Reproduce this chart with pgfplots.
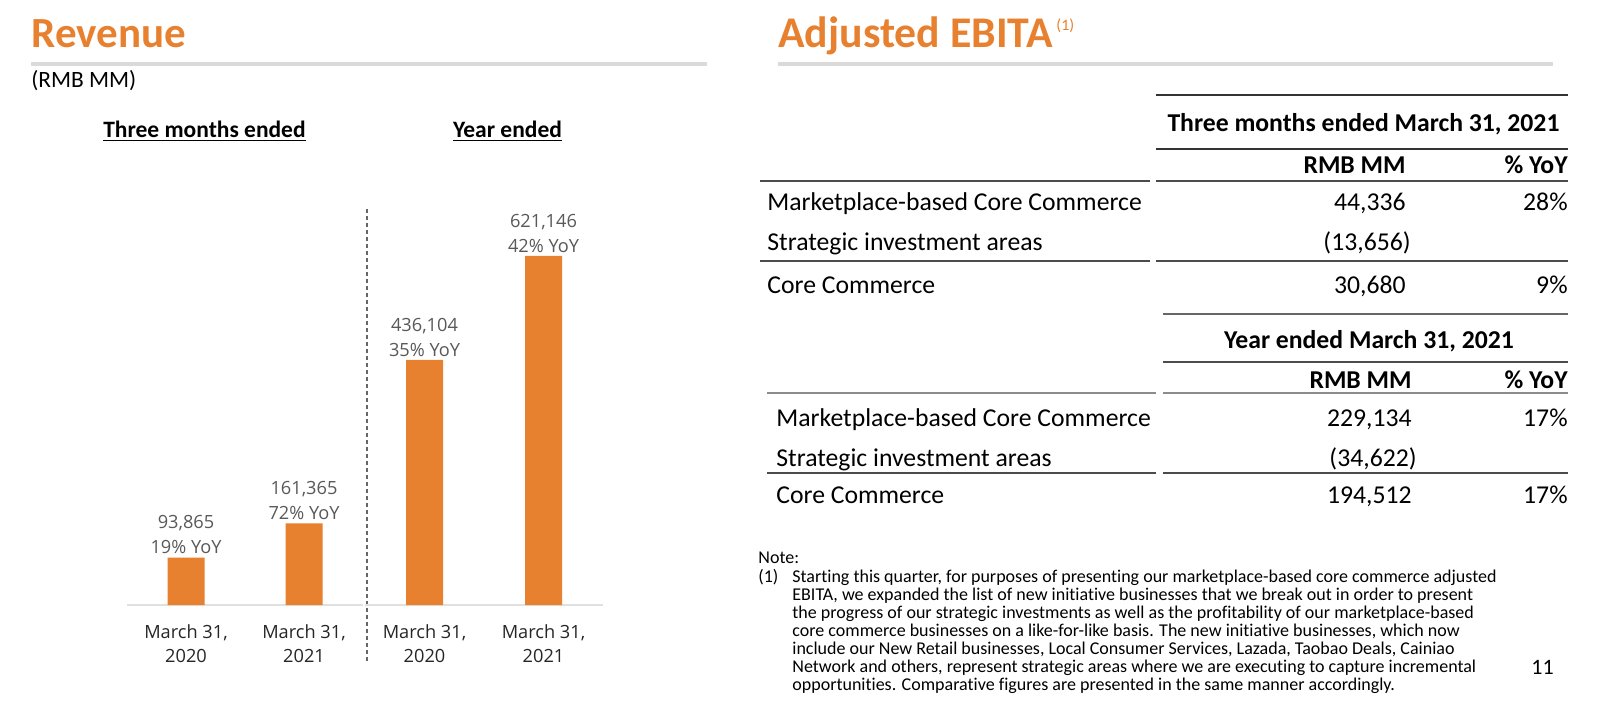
\documentclass[border=0pt]{standalone}
\usepackage{fontspec}
\setmainfont{Carlito}[Ligatures={NoCommon}]
\newfontfamily\osans{Open Sans}
\usepackage{pgfplots}
\pgfplotsset{compat=1.18}
\definecolor{orng}{HTML}{E8812F}
\definecolor{tgray}{HTML}{595959}
\definecolor{rulec}{HTML}{DCDAD8}
\newcommand\fs[2]{\fontsize{#1}{#2}\selectfont}
\newcommand\vlfont{\osans\fontsize{9.1}{12.5}\selectfont}
\begin{document}
\begin{tikzpicture}
\begin{scope}[x=0.5pt,y=-0.5pt]
\fill[white] (0,0) rectangle (1600,719);
\useasboundingbox (0,0) rectangle (1600,719);
% titles
\node[anchor=base west, inner sep=0, text=orng, font=\bfseries\fs{21.5}{26}] at (31,47) {Revenue};
\node[anchor=base west, inner sep=0, text=orng, font=\bfseries\fs{21.9}{26}] (t2) at (778,47) {Adjusted EBITA};
\node[anchor=base west, inner sep=0, text=orng, font=\fs{8}{9}] at ([xshift=1.5pt,yshift=8.5pt]t2.base east) {(1)};
\fill[rulec] (31,62) rectangle (707,66);
\fill[rulec] (778,62) rectangle (1553,66);
\node[anchor=base west, inner sep=0, font=\fs{11.7}{14}] at (31,87) {(RMB MM)};
\node[anchor=base, inner sep=0, font=\bfseries\fs{11.75}{14}] at (204.5,137) {\underline{Three months ended}};
\node[anchor=base, inner sep=0, font=\bfseries\fs{11.75}{14}] at (507.5,137) {\underline{Year ended}};
\draw[black!60, line width=0.6pt, dash pattern=on 2pt off 1.5pt] (367,209) -- (367,663);
% top table
\begin{scope}[every node/.style={inner sep=0, font=\fs{12.85}{15}}]
\draw[black!80, line width=1pt] (1156,95) -- (1568,95);
\node[anchor=base, font=\bfseries\fs{12.85}{15}] at (1363.5,131) {Three months ended March 31, 2021};
\draw[black!80, line width=1pt] (1156,149) -- (1568,149);
\node[anchor=base east, font=\bfseries\fs{12.85}{15}] at (1406,173) {RMB MM};
\node[anchor=base east, font=\bfseries\fs{12.85}{15}] at (1568,173) {\% YoY};
\draw[black!70, line width=1pt] (760,181) -- (1150,181) (1156,181) -- (1568,181);
\node[anchor=base west] at (767,210) {Marketplace-based Core Commerce};
\node[anchor=base east] at (1406,210) {44,336};
\node[anchor=base east] at (1568,210) {28\%};
\node[anchor=base west] at (767,250) {Strategic investment areas};
\node[anchor=base east] at (1411,250) {(13,656)};
\draw[black!70, line width=1pt] (760,261) -- (1150,261) (1156,261) -- (1568,261);
\node[anchor=base west] at (767,293) {Core Commerce};
\node[anchor=base east] at (1406,293) {30,680};
\node[anchor=base east] at (1568,293) {9\%};
\draw[black!60, line width=1pt] (1163,314) -- (1568,314);
% bottom table
\node[anchor=base, font=\bfseries\fs{12.85}{15}] at (1369,348) {Year ended March 31, 2021};
\draw[black!70, line width=1pt] (1163,362) -- (1568,362);
\node[anchor=base east, font=\bfseries\fs{12.85}{15}] at (1412,388) {RMB MM};
\node[anchor=base east, font=\bfseries\fs{12.85}{15}] at (1568,388) {\% YoY};
\draw[black!45, line width=1pt] (767,393) -- (1156,393) (1163,393) -- (1568,393);
\node[anchor=base west] at (776,426) {Marketplace-based Core Commerce};
\node[anchor=base east] at (1412,426) {229,134};
\node[anchor=base east] at (1568,426) {17\%};
\node[anchor=base west] at (776,466) {Strategic investment areas};
\node[anchor=base east] at (1417,466) {(34,622)};
\draw[black!70, line width=1pt] (767,473) -- (1156,473) (1163,473) -- (1568,473);
\node[anchor=base west] at (776,503) {Core Commerce};
\node[anchor=base east] at (1412,503) {194,512};
\node[anchor=base east] at (1568,503) {17\%};
\end{scope}
% note
\begin{scope}[every node/.style={inner sep=0, anchor=base west, font=\fs{9}{9}}]
\node at (758,563) {Note:};
\node at (758,582) {(1)};
\node at (792,582) {Starting this quarter, for purposes of presenting our marketplace-based core commerce adjusted};
\node at (792,600) {EBITA, we expanded the list of new initiative businesses that we break out in order to present};
\node at (792,618) {the progress of our strategic investments as well as the profitability of our marketplace-based};
\node at (792,636) {core commerce businesses on a like-for-like basis. The new initiative businesses, which now};
\node at (792,654) {include our New Retail businesses, Local Consumer Services, Lazada, Taobao Deals, Cainiao};
\node at (792,672) {Network and others, represent strategic areas where we are executing to capture incremental};
\node at (792,690) {opportunities. Comparative figures are presented in the same manner accordingly.};
\node[font=\fs{11}{13}] at (1531,674) {11};
\end{scope}
\end{scope}
\pgfplotsset{
  barax/.style={
    anchor=south west, scale only axis, height=200pt,
    xmin=-0.5, xmax=1.5, ymin=0,
    ybar, bar width=18.5pt,
    axis x line*=bottom, axis y line=none,
    x axis line style={draw=black!12, line width=1pt, -},
    xtick=data, xtick style={draw=none}, major tick length=0pt,
    xticklabel style={align=center, font=\osans\fs{9.1}{12}, text=black!85, yshift=-6.5pt},
    clip=false,
    nodes near coords, point meta=explicit symbolic,
    every node near coord/.append style={align=center, font=\vlfont, text=tgray, anchor=south, inner sep=1.5pt},
  }
}
\begin{axis}[barax, at={(63.5pt,-302.5pt)}, width=118pt, ymax=790500,
  xticklabels={{March 31,\\2020},{March 31,\\2021}}]
\addplot[fill=orng, draw=none] coordinates {(0,93865) [{93,865\\19\% YoY}] (1,161365) [{161,365\\72\% YoY}]};
\end{axis}
\begin{axis}[barax, at={(182.5pt,-302.5pt)}, width=119pt, ymax=711700,
  xticklabels={{March 31,\\2020},{March 31,\\2021}}]
\addplot[fill=orng, draw=none] coordinates {(0,436104) [{436,104\\35\% YoY}] (1,621146) [{621,146\\42\% YoY}]};
\end{axis}
\end{tikzpicture}
\end{document}
